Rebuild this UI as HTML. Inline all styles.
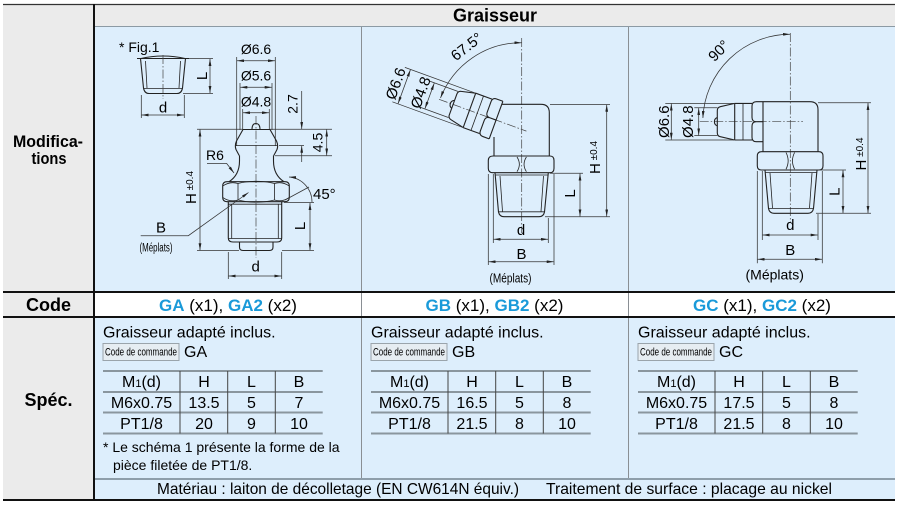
<!DOCTYPE html>
<html><head><meta charset="utf-8">
<style>
html,body{margin:0;padding:0;background:#fff;}
svg{display:block;font-family:"Liberation Sans",Arial,sans-serif;}
.o{fill:none;stroke:#222;stroke-width:1.1;stroke-linejoin:round}
.t{fill:none;stroke:#222;stroke-width:.8}
.d{fill:none;stroke:#333;stroke-width:.75}
.c{fill:none;stroke:#444;stroke-width:.7;stroke-dasharray:9 2 1.5 2}
.da{fill:none;stroke:#333;stroke-width:.75;marker-start:url(#a);marker-end:url(#a)}
.de{fill:none;stroke:#333;stroke-width:.75;marker-end:url(#a)}
.ds{fill:none;stroke:#333;stroke-width:.75;marker-start:url(#a)}
</style></head><body>
<svg width="899" height="505" viewBox="0 0 899 505" xmlns="http://www.w3.org/2000/svg">
<defs><marker id="a" viewBox="0 0 10 4" refX="10" refY="2" markerWidth="7" markerHeight="2.8" markerUnits="userSpaceOnUse" orient="auto-start-reverse"><path d="M0,0L10,2L0,4z" fill="#222"/></marker></defs>

<!-- backgrounds -->
<rect x="3" y="4" width="91" height="496" fill="#ebebeb"/>
<rect x="95" y="4" width="800" height="22" fill="#ebebeb"/>
<rect x="95" y="27" width="800" height="265" fill="#ddeefc"/>
<rect x="95" y="293" width="800" height="23" fill="#fff"/>
<rect x="95" y="318" width="800" height="182" fill="#ddeefc"/>

<!-- grid lines -->
<path d="M3,4.5H895" stroke="#333" stroke-width="1.3"/>
<path d="M95,26.5H895" stroke="#8c9aa4" stroke-width="1"/>
<path d="M361.5,27V291M628.5,27V291M361.5,293V316M628.5,293V316M361.5,318V478M628.5,318V478" stroke="#8a8f94" stroke-width="1"/>
<path d="M95,479H895" stroke="#74848e" stroke-width="1.5"/>
<path d="M3,292H895" stroke="#111" stroke-width="2"/>
<path d="M3,317H895" stroke="#111" stroke-width="2"/>
<path d="M3,500H895" stroke="#111" stroke-width="2"/>
<path d="M94,4V501" stroke="#111" stroke-width="2"/>

<!-- left column -->
<text x="13" y="147" font-size="17" font-weight="bold" textLength="70" lengthAdjust="spacingAndGlyphs">Modifica-</text>
<text x="31.5" y="164" font-size="17" font-weight="bold" textLength="35" lengthAdjust="spacingAndGlyphs">tions</text>
<text x="48.5" y="311" font-size="18" font-weight="bold" text-anchor="middle">Code</text>
<text x="48.5" y="406" font-size="18" font-weight="bold" text-anchor="middle">Spéc.</text>

<!-- header -->
<text x="495" y="21.5" font-size="18" font-weight="bold" text-anchor="middle">Graisseur</text>

<!-- code row -->
<text x="228" y="311" font-size="17" text-anchor="middle"><tspan fill="#1a9ad9" font-weight="bold">GA</tspan> (x1), <tspan fill="#1a9ad9" font-weight="bold">GA2</tspan> (x2)</text>
<text x="494.5" y="311" font-size="17" text-anchor="middle"><tspan fill="#1a9ad9" font-weight="bold">GB</tspan> (x1), <tspan fill="#1a9ad9" font-weight="bold">GB2</tspan> (x2)</text>
<text x="762" y="311" font-size="17" text-anchor="middle"><tspan fill="#1a9ad9" font-weight="bold">GC</tspan> (x1), <tspan fill="#1a9ad9" font-weight="bold">GC2</tspan> (x2)</text>

<!-- spec GA -->
<text x="103" y="337.5" font-size="16">Graisseur adapté inclus.</text>
<rect x="103" y="343.5" width="76" height="17" fill="#e6edf2" stroke="#9aa4ab" stroke-width="1"/>
<text x="105" y="355.5" font-size="11" textLength="72" lengthAdjust="spacingAndGlyphs">Code de commande</text>
<text x="184" y="357" font-size="16">GA</text>
<path d="M103,371H322.7M103,392H322.7M103,412.5H322.7M103,433.5H322.7" stroke="#8a969e" stroke-width="2"/>
<path d="M180,371V433.5M227.7,371V433.5M275.3,371V433.5" stroke="#444" stroke-width="1"/>
<g font-size="16" text-anchor="middle">
<text x="141.5" y="387">M<tspan font-size="11">1</tspan>(d)</text><text x="204" y="387">H</text><text x="251.5" y="387">L</text><text x="299" y="387">B</text>
<text x="141.5" y="408">M6x0.75</text><text x="204" y="408">13.5</text><text x="251.5" y="408">5</text><text x="299" y="408">7</text>
<text x="141.5" y="429">PT1/8</text><text x="204" y="429">20</text><text x="251.5" y="429">9</text><text x="299" y="429">10</text>
</g>
<text x="103" y="452" font-size="14">* Le schéma 1 présente la forme de la</text>
<text x="113" y="470" font-size="14">pièce filetée de PT1/8.</text>

<!-- spec GB -->
<text x="371" y="337.5" font-size="16">Graisseur adapté inclus.</text>
<rect x="371" y="343.5" width="76" height="17" fill="#e6edf2" stroke="#9aa4ab" stroke-width="1"/>
<text x="373" y="355.5" font-size="11" textLength="72" lengthAdjust="spacingAndGlyphs">Code de commande</text>
<text x="452" y="357" font-size="16">GB</text>
<path d="M371,371H590.7M371,392H590.7M371,412.5H590.7M371,433.5H590.7" stroke="#8a969e" stroke-width="2"/>
<path d="M448,371V433.5M495.7,371V433.5M543.3,371V433.5" stroke="#444" stroke-width="1"/>
<g font-size="16" text-anchor="middle">
<text x="409.5" y="387">M<tspan font-size="11">1</tspan>(d)</text><text x="472" y="387">H</text><text x="519.5" y="387">L</text><text x="567" y="387">B</text>
<text x="409.5" y="408">M6x0.75</text><text x="472" y="408">16.5</text><text x="519.5" y="408">5</text><text x="567" y="408">8</text>
<text x="409.5" y="429">PT1/8</text><text x="472" y="429">21.5</text><text x="519.5" y="429">8</text><text x="567" y="429">10</text>
</g>

<!-- spec GC -->
<text x="638" y="337.5" font-size="16">Graisseur adapté inclus.</text>
<rect x="638" y="343.5" width="76" height="17" fill="#e6edf2" stroke="#9aa4ab" stroke-width="1"/>
<text x="640" y="355.5" font-size="11" textLength="72" lengthAdjust="spacingAndGlyphs">Code de commande</text>
<text x="719" y="357" font-size="16">GC</text>
<path d="M638,371H857.7M638,392H857.7M638,412.5H857.7M638,433.5H857.7" stroke="#8a969e" stroke-width="2"/>
<path d="M715,371V433.5M762.7,371V433.5M810.3,371V433.5" stroke="#444" stroke-width="1"/>
<g font-size="16" text-anchor="middle">
<text x="676.5" y="387">M<tspan font-size="11">1</tspan>(d)</text><text x="739" y="387">H</text><text x="786.5" y="387">L</text><text x="834" y="387">B</text>
<text x="676.5" y="408">M6x0.75</text><text x="739" y="408">17.5</text><text x="786.5" y="408">5</text><text x="834" y="408">8</text>
<text x="676.5" y="429">PT1/8</text><text x="739" y="429">21.5</text><text x="786.5" y="429">8</text><text x="834" y="429">10</text>
</g>

<!-- material row -->
<text x="157" y="494" font-size="16" textLength="362" lengthAdjust="spacingAndGlyphs">Matériau : laiton de décolletage (EN CW614N équiv.)</text>
<text x="546" y="494" font-size="16" textLength="286" lengthAdjust="spacingAndGlyphs">Traitement de surface : placage au nickel</text>

<!-- ===== GA drawing ===== -->
<text x="119" y="52" font-size="14">* Fig.1</text>
<path class="o" d="M137,58.5H189"/>
<path class="o" d="M141,58.5Q163,53.5 185,58.5"/>
<path class="o" d="M140.5,58.5L143.5,88Q144.5,93.5 149,93.5H177Q181.5,93.5 182.5,88L185.5,58.5"/>
<path class="t" d="M145.5,61L147,88M180.5,61L179,88M143.5,88.5H182.5"/>
<path class="c" d="M163,55V99"/>
<path class="d" d="M189,58.5H213M183,93.5H213"/>
<path class="da" d="M210,59V93"/>
<text transform="translate(207,76) rotate(-90)" font-size="15" text-anchor="middle">L</text>
<path class="d" d="M141.3,95V118M184.3,95V118"/>
<path class="da" d="M141.6,115H184"/>
<text x="163" y="112.5" font-size="15" text-anchor="middle">d</text>

<path class="c" d="M256,116V258"/>
<text x="256" y="54" font-size="14" text-anchor="middle">Ø6.6</text>
<path class="d" d="M236.7,57V146M275.3,57V146"/>
<path class="da" d="M237,60.7H275"/>
<text x="256" y="80.7" font-size="14" text-anchor="middle">Ø5.6</text>
<path class="d" d="M240,83V130M272,83V130"/>
<path class="da" d="M240.3,87.3H271.7"/>
<text x="256" y="106.7" font-size="14" text-anchor="middle">Ø4.8</text>
<path class="d" d="M242.7,109V129M269.3,109V129"/>
<path class="da" d="M243,112.7H269"/>

<path class="o" d="M252,129.5Q252,123.5 256,123.5Q260,123.5 260,129.5"/>
<path class="o" d="M243,129.5H270L276.5,141Q278.5,145.5 277,149.5L273.8,155.5M243,129.5L236.5,141Q234.5,145.5 236,149.5L239.2,155.5"/>
<path class="t" d="M235.5,145.5H277.5"/>
<path class="o" d="M239.5,155.5V161Q239.5,175 229,181.7M273.5,155.5V161Q273.5,175 284,181.7"/>
<path class="o" d="M227,181.7H285Q289.3,181.7 289.3,186V197.4Q289.3,201.7 285,201.7H227Q222.7,201.7 222.7,197.4V186Q222.7,181.7 227,181.7Z"/>
<path class="t" d="M238,183.5V200M274.5,183.5V200M238,183.5Q256,179 274.5,183.5M238,200Q256,204.5 274.5,200M222.7,186Q230,181 238,183.5M289.3,186Q282,181 274.5,183.5M222.7,197.4Q230,202.5 238,200M289.3,197.4Q282,202.5 274.5,200"/>
<path class="o" d="M228.3,201.7V238Q228.3,242 233,242H277Q281.7,242 281.7,238V201.7"/>
<path class="t" d="M228.3,204.2H281.7M231.7,204.5V238.5M278.3,204.5V238.5M228.3,238.5H281.7"/>
<path class="o" d="M239.5,242V247Q239.5,250.5 243,250.5H269.5Q273,250.5 273,247V242"/>

<path class="d" d="M197,129.3H243M270,129.3H332M279,145.5H304M275,155.7H332"/>
<path class="de" d="M301.7,91V129"/>
<path class="de" d="M301.7,162V145.8"/>
<text transform="translate(297.5,104) rotate(-90)" font-size="14" text-anchor="middle">2.7</text>
<path class="da" d="M326.7,129.6V155.4"/>
<text transform="translate(322.5,142.5) rotate(-90)" font-size="14" text-anchor="middle">4.5</text>
<path class="da" d="M200,129.6V250.2"/>
<path class="d" d="M197,250.5H239"/>
<text transform="translate(196,187.5) rotate(-90)" font-size="15" text-anchor="middle">H<tspan font-size="10" dy="-3"> ±0.4</tspan></text>
<text x="206" y="160" font-size="14">R6</text>
<path class="de" d="M207,163.5H226.7L234,173"/>
<text x="313" y="199" font-size="15">45°</text>
<path class="ds" d="M289,177A25,25 0 0 1 312,202"/>
<path class="d" d="M285,200L309,187M284,202.5H314"/>
<path class="da" d="M310,203V250.2"/>
<path class="d" d="M282,250.5H314"/>
<text transform="translate(305,226) rotate(-90)" font-size="15" text-anchor="middle">L</text>
<path class="d" d="M228.3,252V279M281.7,252V279"/>
<path class="da" d="M228.6,276H281.4"/>
<text x="255.7" y="271.5" font-size="15" text-anchor="middle">d</text>
<text x="161" y="232.5" font-size="15" text-anchor="middle">B</text>
<text x="139.5" y="251.5" font-size="11.5" textLength="33" lengthAdjust="spacingAndGlyphs">(Méplats)</text>
<path class="de" d="M140.7,235.7H188.3L248.5,192.5"/>

<!-- ===== GB drawing ===== -->
<path class="c" d="M521.7,38V233"/>
<g transform="translate(521.7,129.4) rotate(20)">
 <path class="c" d="M-88,0H5"/>
 <path class="o" d="M-73,-4.2A4.5,4.5 0 0 0 -73,4.2"/>
 <path class="o" d="M-55.6,-18.3L-70,-15Q-73,-14.3 -73,-11V11Q-73,14.3 -70,15L-55.6,18.3"/>
 <path class="o" d="M-55.6,-18.3H-38.3M-55.6,18.3H-38.3M-55.6,-18.3V18.3"/>
 <path class="t" d="M-47.3,-18.3V18.3"/>
 <path class="o" d="M-27.3,-20H-34Q-38.3,-20 -38.3,-15.5V-4.5Q-38.3,0 -34,0H-27.3M-34,0Q-38.3,0 -38.3,4.5V15.5Q-38.3,20 -34,20H-27.3M-27.3,-20V20"/>
 <path class="d" d="M-56,-18.3H-131M-56,18.3H-131"/>
 <path class="da" d="M-125,-18V18"/>
 <text transform="translate(-129,0) rotate(-90)" font-size="15" text-anchor="middle">Ø6.6</text>
 <path class="d" d="M-73,-13.9H-103M-73,13.9H-103"/>
 <path class="da" d="M-98,-13.6V13.6"/>
 <text transform="translate(-102.5,0) rotate(-90)" font-size="15" text-anchor="middle">Ø4.8</text>
</g>
<path class="o" d="M501.7,104.3H541Q549.3,104.3 549.3,112.6V156M494,156V137"/>
<path class="o" d="M493,156H550Q554,156 554,160.5V168.2Q554,172.7 550,172.7H493Q488.3,172.7 488.3,168.2V160.5Q488.3,156 493,156Z"/>
<path class="t" d="M517,157Q521.7,164.3 517,171.7M526.4,157Q521.7,164.3 526.4,171.7"/>
<path class="o" d="M495,172.7L498.5,212Q499.5,216.7 504,216.7H539Q543.5,216.7 544.5,212L548.3,172.7"/>
<path class="t" d="M495.2,175H548.1M500,176L502.5,211.5M543.5,176L541,211.5M498.6,211.8H544.4"/>
<path class="d" d="M550,104.5H610M545,216.7H610M550,173.3H583"/>
<path class="da" d="M606.7,104.8V216.4"/>
<text transform="translate(600,157.5) rotate(-90)" font-size="15" text-anchor="middle">H<tspan font-size="10" dy="-3"> ±0.4</tspan></text>
<path class="da" d="M580,173.6V216.4"/>
<text transform="translate(575,193.5) rotate(-90)" font-size="15" text-anchor="middle">L</text>
<path class="d" d="M493.3,174V243M548.3,218V243M488.3,174V265M554,174V265"/>
<path class="da" d="M493.6,239.3H548"/>
<text x="521" y="235" font-size="15" text-anchor="middle">d</text>
<path class="da" d="M488.6,261.7H553.7"/>
<text x="521.5" y="259" font-size="15" text-anchor="middle">B</text>
<text x="489.5" y="282.5" font-size="12.5" textLength="42" lengthAdjust="spacingAndGlyphs">(Méplats)</text>
<path class="da" d="M440.5,98A86.7,86.7 0 0 1 521.5,42.7"/>
<text transform="translate(466.7,46.7) rotate(-38)" font-size="15" text-anchor="middle" dy="5">67.5°</text>

<!-- ===== GC drawing ===== -->
<path class="c" d="M790.3,33V223"/>
<g transform="translate(790.3,121.7)">
 <path class="c" d="M-90.6,0H12.7"/>
 <path class="o" d="M-73,-4.2A4.5,4.5 0 0 0 -73,4.2"/>
 <path class="o" d="M-55.6,-18.3L-70,-15Q-73,-14.3 -73,-11V11Q-73,14.3 -70,15L-55.6,18.3"/>
 <path class="o" d="M-55.6,-18.3H-38.3M-55.6,18.3H-38.3M-55.6,-18.3V18.3"/>
 <path class="t" d="M-47.3,-18.3V18.3"/>
 <path class="o" d="M-27.3,-20H-34Q-38.3,-20 -38.3,-15.5V-4.5Q-38.3,0 -34,0H-27.3M-34,0Q-38.3,0 -38.3,4.5V15.5Q-38.3,20 -34,20H-27.3"/>
 <path class="d" d="M-56,-18.3H-125M-56,18.3H-125"/>
 <path class="da" d="M-119,-18V18"/>
 <text transform="translate(-121.5,0) rotate(-90)" font-size="15" text-anchor="middle">Ø6.6</text>
 <path class="d" d="M-73,-13.9H-96M-73,13.9H-96"/>
 <path class="da" d="M-91.6,-13.6V13.6"/>
 <text transform="translate(-97.5,0) rotate(-90)" font-size="15" text-anchor="middle">Ø4.8</text>
</g>
<path class="o" d="M763,101.7H810Q818,101.7 818,109.7V151.7M763,101.7V151.7"/>
<path class="o" d="M761.5,151.7H819Q823,151.7 823,156V165.7Q823,170 819,170H761.5Q757.3,170 757.3,165.7V156Q757.3,151.7 761.5,151.7Z"/>
<path class="t" d="M786,152.5Q790.3,160.8 786,169.2M794.6,152.5Q790.3,160.8 794.6,169.2"/>
<path class="o" d="M765,170L768.5,208.5Q769.5,213.3 774,213.3H808Q812.5,213.3 813.5,208.5L817,170"/>
<path class="t" d="M765.2,172.5H816.8M770,173L772.5,208M812,173L809.5,208M768.6,208.5H813.4"/>
<path class="d" d="M818,102.7H871M816,213.3H871M819.7,170H846"/>
<path class="da" d="M868,103V213"/>
<text transform="translate(866,154) rotate(-90)" font-size="15" text-anchor="middle">H<tspan font-size="10" dy="-3"> ±0.4</tspan></text>
<path class="da" d="M843,170.3V213"/>
<text transform="translate(839.5,191.7) rotate(-90)" font-size="15" text-anchor="middle">L</text>
<path class="d" d="M762.3,171V240M818,214V240M757.3,171V263.3M822.3,171V263.3"/>
<path class="da" d="M762.6,235H817.7"/>
<text x="790.3" y="230" font-size="15" text-anchor="middle">d</text>
<path class="da" d="M757.6,259.3H822"/>
<text x="790.3" y="255" font-size="15" text-anchor="middle">B</text>
<text x="774.7" y="279.5" font-size="14" text-anchor="middle">(Méplats)</text>
<path class="da" d="M702.9,118A87.4,87.4 0 0 1 790,34.3"/>
<text transform="translate(718.8,50.8) rotate(-45)" font-size="15" text-anchor="middle" dy="5">90°</text>
</svg>
</body></html>
